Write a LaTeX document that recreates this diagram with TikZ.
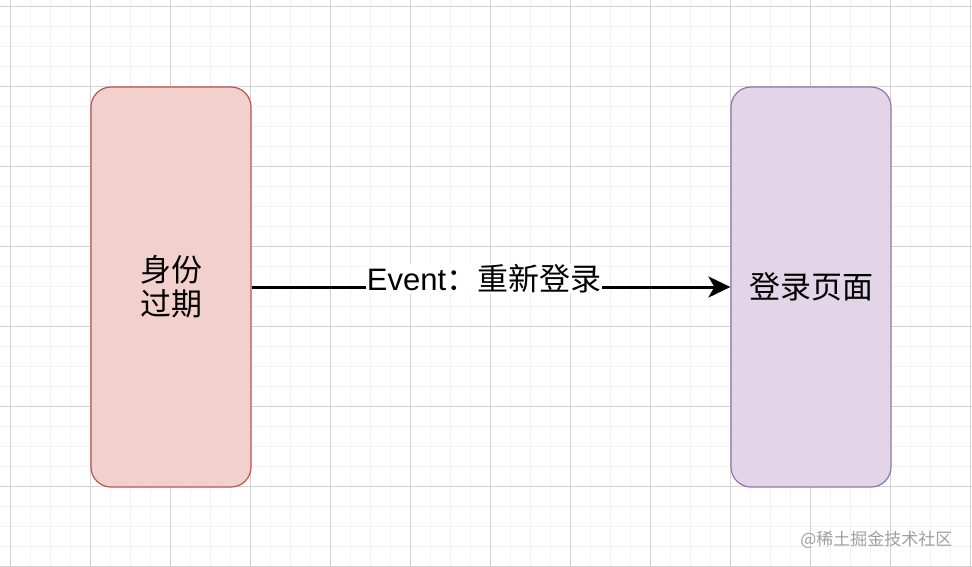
\documentclass[tikz,border=0pt]{standalone}
\usepackage{fontspec}
\setmainfont{Liberation Sans}
\newfontfamily\cjk{Noto Sans CJK SC}
\usetikzlibrary{arrows.meta}
\definecolor{redfill}{HTML}{F2D0CD}
\definecolor{redline}{HTML}{B85450}
\definecolor{purfill}{HTML}{E1D5E7}
\definecolor{purline}{HTML}{9673A6}
\definecolor{minorgrid}{HTML}{F2F2F2}
\definecolor{majorgrid}{HTML}{D3D3D3}
\tikzset{
  box/.style={rounded corners=20pt, line width=1.2pt, minimum width=160pt, minimum height=400pt, inner sep=0pt, align=center, font=\cjk\fontsize{31}{34}\selectfont},
  redbox/.style={box, fill=redfill, draw=redline},
  purbox/.style={box, fill=purfill, draw=purline},
  conn/.style={line width=3pt, -{Stealth[length=22pt,width=21pt,inset=6pt]}},
  lbl/.style={fill=white, inner sep=1pt, font=\fontsize{31}{35}\selectfont}
}
\begin{document}
\begin{tikzpicture}[x=1pt,y=-1pt]
\useasboundingbox (0,0) rectangle (972,566);
\fill[white] (0,0) rectangle (972,566);
% minor grid
\foreach \x in {10,30,...,970} \draw[minorgrid, line width=1pt] (\x,0) -- (\x,566);
\foreach \y in {6,26,...,566} \draw[minorgrid, line width=1pt] (0,\y) -- (972,\y);
% major grid
\foreach \x in {10,90,...,970} \draw[majorgrid, line width=1pt] (\x,0) -- (\x,566);
\foreach \y in {6,86,...,566} \draw[majorgrid, line width=1pt] (0,\y) -- (972,\y);
\node[redbox] (a) at (171,287) {身份\\过期};
\node[purbox] (b) at (811,287) {登录页面};
\draw[conn] (a.east) -- node[lbl, yshift=8pt, xshift=-7pt] {Event{\cjk ：重新登录}} (b.west);
\node[text=gray!75, font=\cjk\fontsize{17}{19}\selectfont, anchor=east] (wm) at (956,540) {@稀土掘金技术社区};
\end{tikzpicture}
\end{document}
